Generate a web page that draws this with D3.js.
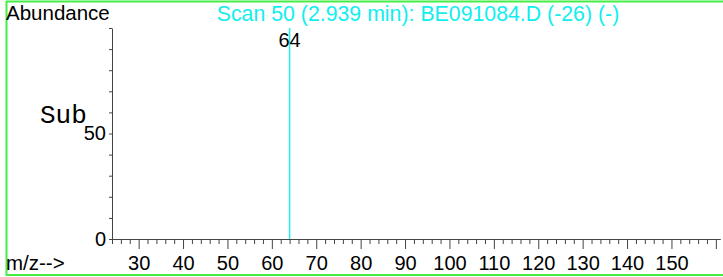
<!DOCTYPE html>
<html>
<head>
<meta charset="utf-8">
<script src="https://cdn.jsdelivr.net/npm/d3@7"></script>
<style>
  body { margin: 0; background: #fff; }
  svg { display: block; font-family: Arial, "Liberation Sans", sans-serif; }
</style>
</head>
<body>
<svg class="spectrum"></svg>
<script>
const width = 723;
const height = 277;

// spectrum data
const mz = [64];
const abundance = [100];
const peakLabels = ["64"];

const title = "Scan 50 (2.939 min): BE091084.D (-26) (-)";
const majorTicks = [30, 40, 50, 60, 70, 80, 90, 100, 110, 120, 130, 140, 150, 160];
const labelledY = [0, 50];

const svg = d3.select(".spectrum").attr("width", width).attr("height", height);

// green frame
svg.append("rect")
  .attr("x", 6.5).attr("y", 1.5)
  .attr("width", 720).attr("height", 273.5)
  .attr("fill", "none")
  .attr("stroke", "#44ee44")
  .attr("stroke-width", 2);

const x = d3.scaleLinear().domain([24, 161]).range([112, 720.3]);
const y = d3.scaleLinear().domain([0, 100]).range([239, 28]);

// minor ticks every 2
const minorTicks = d3.range(24, 161, 2).filter((d) => d % 10 !== 0);

svg.append("g")
  .attr("transform", `translate(0,${y(0)})`)
  .call(d3.axisBottom(x).tickValues(minorTicks).tickSize(5).tickSizeOuter(0).tickFormat(""))
  .call((g) => g.select(".domain").attr("stroke", "#444"))
  .call((g) => g.selectAll(".tick line").attr("stroke", "#444"));

svg.append("g")
  .attr("transform", `translate(0,${y(0)})`)
  .call(d3.axisBottom(x).tickValues(majorTicks).tickSize(10).tickSizeOuter(0)
    .tickFormat((d) => (d === 160 ? "" : d)))
  .call((g) => g.select(".domain").remove())
  .call((g) => g.selectAll(".tick line").attr("stroke", "#444"))
  .call((g) => g.selectAll(".tick text")
    .attr("fill", "#000")
    .attr("y", 17)
    .style("font-size", "20px")
    .style("font-family", "Arial, 'Liberation Sans', sans-serif"));

svg.append("g")
  .attr("transform", `translate(${x(24)},0)`)
  .call(d3.axisLeft(y).tickValues(d3.range(0, 101, 10)).tickSize(3).tickSizeOuter(0)
    .tickFormat((d) => (labelledY.includes(d) ? d : "")))
  .call((g) => g.select(".domain").attr("stroke", "#444"))
  .call((g) => g.selectAll(".tick line").attr("stroke", "#444"))
  .call((g) => g.selectAll(".tick text")
    .attr("fill", "#000")
    .attr("x", -6)
    .style("font-size", "20px")
    .style("font-family", "Arial, 'Liberation Sans', sans-serif"));

// peaks
svg.selectAll("line.peak")
  .data(mz)
  .enter()
  .append("line")
  .attr("class", "peak")
  .attr("x1", (d) => x(d))
  .attr("x2", (d) => x(d))
  .attr("y1", y(0))
  .attr("y2", (d, i) => y(abundance[i]))
  .attr("stroke", "#22f0f0")
  .attr("stroke-width", 1.5);

svg.selectAll("text.peak-label")
  .data(mz)
  .enter()
  .append("text")
  .attr("class", "peak-label")
  .attr("x", (d) => x(d))
  .attr("y", (d, i) => y(abundance[i]) + 19)
  .attr("text-anchor", "middle")
  .style("font-size", "20px")
  .text((d, i) => peakLabels[i]);

svg.append("text")
  .attr("x", 6)
  .attr("y", 20)
  .style("font-size", "20.5px")
  .text("Abundance");

svg.append("text")
  .attr("x", 418)
  .attr("y", 21)
  .attr("text-anchor", "middle")
  .attr("fill", "#11eeee")
  .style("font-size", "21.3px")
  .text(title);

svg.append("text")
  .attr("x", 40)
  .attr("y", 123)
  .style("font-family", "'Liberation Mono', 'Courier New', monospace")
  .style("font-size", "26px")
  .text("Sub");

svg.append("text")
  .attr("x", 6)
  .attr("y", 270)
  .style("font-size", "20.5px")
  .text("m/z-->");
</script>
</body>
</html>
